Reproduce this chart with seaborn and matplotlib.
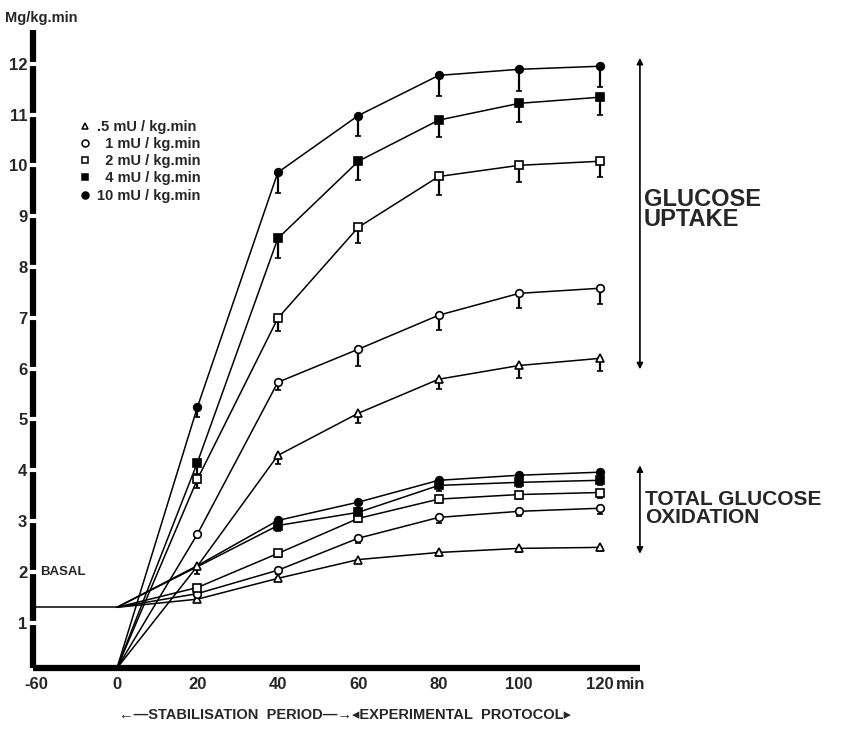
import numpy as np
import pandas as pd
import matplotlib
matplotlib.use("Agg")
import matplotlib.pyplot as plt
import seaborn as sns
from matplotlib.lines import Line2D

# ---- data (mg/kg.min) ----
times = [20, 40, 60, 80, 100, 120]
doses = [".5", "1", "2", "4", "10"]
dose_labels = [".5 mU / kg.min", "  1 mU / kg.min", "  2 mU / kg.min", "  4 mU / kg.min", "10 mU / kg.min"]

basal_t = [-60, 0]
basal_val = 1.3
uptake_start = 0.1

uptake_05 = [2.11, 4.29, 5.12, 5.79, 6.06, 6.20]
uptake_1 = [2.74, 5.73, 6.38, 7.05, 7.48, 7.58]
uptake_2 = [3.82, 6.99, 8.78, 9.78, 10.00, 10.08]
uptake_4 = [4.15, 8.56, 10.08, 10.89, 11.22, 11.34]
uptake_10 = [5.24, 9.86, 10.98, 11.77, 11.89, 11.95]

uptake_err_05 = [0.15, 0.16, 0.20, 0.20, 0.25, 0.25]
uptake_err_1 = [0.0, 0.16, 0.33, 0.30, 0.28, 0.31]
uptake_err_2 = [0.18, 0.26, 0.30, 0.37, 0.33, 0.31]
uptake_err_4 = [0.23, 0.38, 0.37, 0.33, 0.36, 0.35]
uptake_err_10 = [0.20, 0.40, 0.41, 0.40, 0.42, 0.41]

oxid_05 = [1.46, 1.87, 2.24, 2.38, 2.46, 2.48]
oxid_1 = [1.57, 2.03, 2.66, 3.07, 3.19, 3.25]
oxid_2 = [1.69, 2.36, 3.05, 3.43, 3.52, 3.56]
oxid_4 = [2.10, 2.91, 3.17, 3.70, 3.76, 3.80]
oxid_10 = [2.12, 3.01, 3.37, 3.80, 3.90, 3.96]

oxid_err_05 = [0.05, 0.05, 0.06, 0.06, 0.07, 0.07]
oxid_err_1 = [0.05, 0.08, 0.10, 0.12, 0.10, 0.12]
oxid_err_2 = [0.05, 0.06, 0.08, 0.08, 0.08, 0.10]
oxid_err_4 = [0.0, 0.10, 0.12, 0.12, 0.10, 0.10]
oxid_err_10 = [0.0, 0.10, 0.12, 0.10, 0.10, 0.10]

uptake = [uptake_05, uptake_1, uptake_2, uptake_4, uptake_10]
uptake_err = [uptake_err_05, uptake_err_1, uptake_err_2, uptake_err_4, uptake_err_10]
oxid = [oxid_05, oxid_1, oxid_2, oxid_4, oxid_10]
oxid_err = [oxid_err_05, oxid_err_1, oxid_err_2, oxid_err_4, oxid_err_10]
# the 20 min oxidation points of 4 and 10 mU hide behind the .5 mU uptake marker
oxid_hidden_20 = ["4", "10"]

markers = {".5": "^", "1": "o", "2": "s", "4": "s", "10": "o"}
faces = {".5": "white", "1": "white", "2": "white", "4": "black", "10": "black"}

rows = []
for d, up, ue, ox, oe in zip(doses, uptake, uptake_err, oxid, oxid_err):
    rows.append((d, "uptake", 0, uptake_start, 0.0))
    rows.append((d, "oxidation", 0, basal_val, 0.0))
    for t, v, e in zip(times, up, ue):
        rows.append((d, "uptake", t, v, e))
    for t, v, e in zip(times, ox, oe):
        rows.append((d, "oxidation", t, v, e))
df = pd.DataFrame(rows, columns=["dose", "measure", "time", "value", "err"])

sns.set_style("white")
plt.rcParams["font.family"] = ["Liberation Sans", "DejaVu Sans"]
plt.rcParams["font.weight"] = "bold"

fig = plt.figure(figsize=(8.42, 7.36), dpi=100)
ax = fig.add_axes([0.039, 0.092, 0.721, 0.867])

# basal period (-60..0) is drawn compressed
def fwd(t):
    t = np.asarray(t, dtype=float)
    return np.where(t < 0, t / 3.0, t)

def inv(u):
    u = np.asarray(u, dtype=float)
    return np.where(u < 0, u * 3.0, u)

ax.set_xscale("function", functions=(fwd, inv))

sns.lineplot(x=basal_t, y=[basal_val, basal_val], color="black", lw=1.1, ax=ax)

for (d, m), g in df.groupby(["dose", "measure"], sort=False):
    g = g.sort_values("time")
    sns.lineplot(data=g, x="time", y="value", color="black", lw=1.1, ax=ax,
                 estimator=None, sort=False)
    pts = g[g["time"] > 0]
    if m == "oxidation" and d in oxid_hidden_20:
        pts = pts[pts["time"] > 20]
    ax.errorbar(pts["time"], pts["value"], yerr=[pts["err"], np.zeros(len(pts))],
                fmt=markers[d], ms=5.5, mfc=faces[d], mec="black", mew=1.2,
                ecolor="black", elinewidth=1.6, capsize=2.5, capthick=1.6,
                color="black", zorder=4)

ax.set_xlim(-62.7, 130)
ax.set_ylim(0.1, 12.66)
ax.set_xlabel("")
ax.set_ylabel("")

# thick axis lines broken at the ticks
for side in ["top", "right"]:
    ax.spines[side].set_visible(False)
for side in ["left", "bottom"]:
    ax.spines[side].set_linewidth(4.5)
    ax.spines[side].set_color("black")
    ax.spines[side].set_capstyle("butt")

ax.set_xticks([-60, 0, 20, 40, 60, 80, 100, 120])
ax.set_xticklabels(["-60", "0", "20", "40", "60", "80", "100", "120"])
ax.set_xticks([0, 20, 40, 60, 80, 100, 120], minor=True)
ax.tick_params(axis="x", which="major", bottom=True, length=0, pad=6, labelsize=12)
ax.tick_params(axis="x", which="minor", bottom=True, length=12, width=3,
               color="white", direction="inout")
ax.set_yticks(range(1, 13))
ax.tick_params(axis="y", which="major", left=True, length=12, width=3, color="white",
               direction="inout", pad=-2, labelsize=12)
ax.xaxis.set_zorder(3)
ax.yaxis.set_zorder(3)
for lab in ax.get_xticklabels() + ax.get_yticklabels():
    lab.set_fontweight("bold")

ax.annotate("min", xy=(120, 0), xycoords=("data", "axes fraction"), xytext=(12, -6),
            textcoords="offset points", ha="left", va="top", fontsize=12, fontweight="bold")

fig.text(0.006, 0.985, "Mg/kg.min", ha="left", va="top", fontsize=10.5, fontweight="bold")
ax.text(-57, 2.0, "BASAL", ha="left", va="center", fontsize=9.5, fontweight="bold")

# right-hand brackets
ax.annotate("", xy=(130, 5.93), xytext=(130, 12.17), annotation_clip=False,
            arrowprops=dict(arrowstyle="<|-|>", color="black", lw=1.2, mutation_scale=9))
ax.text(131, 9.55, "GLUCOSE\nUPTAKE", ha="left", va="top", fontsize=17,
        fontweight="bold", linespacing=0.85, clip_on=False)
ax.annotate("", xy=(130, 2.30), xytext=(130, 4.15), annotation_clip=False,
            arrowprops=dict(arrowstyle="<|-|>", color="black", lw=1.2, mutation_scale=9))
ax.text(131.3, 3.6, "TOTAL GLUCOSE\nOXIDATION", ha="left", va="top", fontsize=15,
        fontweight="bold", linespacing=0.9, clip_on=False)

fig.text(0.41, 0.028, "\u2190\u2014STABILISATION  PERIOD\u2014\u2192\u25c2EXPERIMENTAL  PROTOCOL\u25b8",
         ha="center", va="center", fontsize=10.5, fontweight="bold")

handles = [Line2D([], [], ls="none", marker=markers[d], ms=5, mfc=faces[d], mec="black", mew=1.1)
           for d in doses]
ax.legend(handles, dose_labels, loc="upper left", bbox_to_anchor=(0.08, 0.855),
          bbox_transform=fig.transFigure, frameon=False, handlelength=0.6,
          handletextpad=0.5, labelspacing=0.22, prop={"size": 10.5, "weight": "bold"})

fig.savefig("out.png", dpi=100)
